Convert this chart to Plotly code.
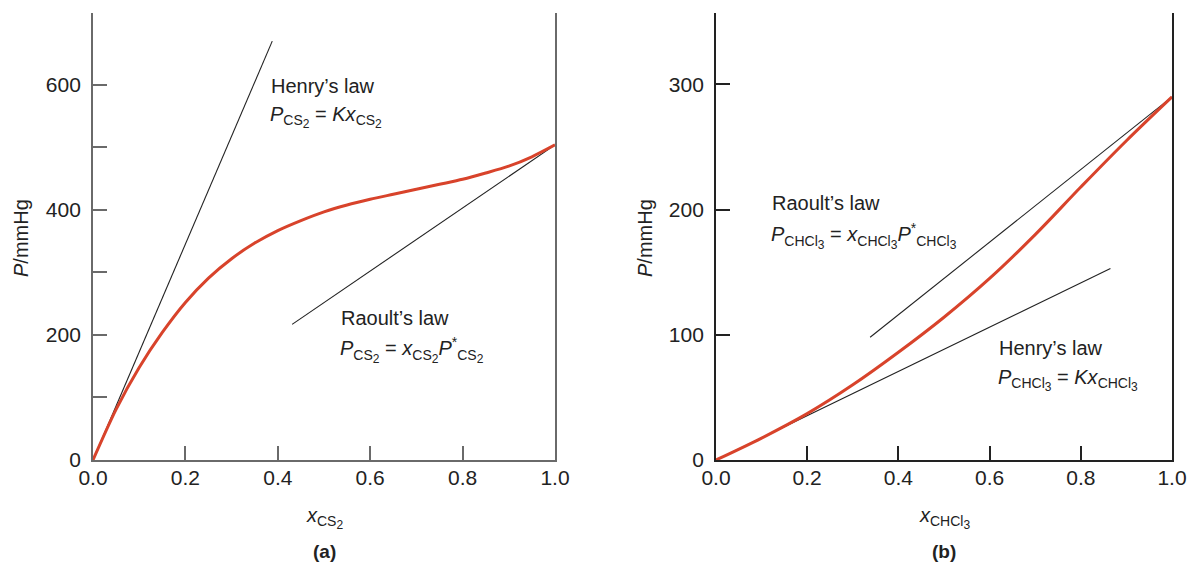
import plotly.graph_objects as go

# ---- data: panel (a) CS2 ----
x_cs2 = [0, 0.05, 0.1, 0.15, 0.2, 0.25, 0.3, 0.35, 0.4, 0.45, 0.5, 0.55, 0.6, 0.65, 0.7, 0.75, 0.8, 0.85, 0.9, 0.95, 1.0]
p_cs2 = [0, 81, 148, 204, 252, 291, 322, 347, 367, 383, 397, 408, 417, 425, 433, 441, 449, 459, 470, 485, 504]
henry_a_x = [0, 0.388]
henry_a_p = [0, 670]
raoult_a_x = [0.431, 1.0]
raoult_a_p = [217, 504]

# ---- data: panel (b) CHCl3 ----
x_chcl3 = [0, 0.1, 0.2, 0.3, 0.4, 0.5, 0.6, 0.7, 0.8, 0.9, 1.0]
p_chcl3 = [0, 17.5, 37, 60, 86, 114, 145, 180, 218, 255, 290]
henry_b_x = [0, 0.865]
henry_b_p = [0, 153]
raoult_b_x = [0.338, 1.0]
raoult_b_p = [98, 290]

xticks = [0, 0.2, 0.4, 0.6, 0.8, 1.0]
xtick_text = ["0.0", "0.2", "0.4", "0.6", "0.8", "1.0"]
a_yticks = [0, 100, 200, 300, 400, 500, 600]
a_ytext = ["0", "", "200", "", "400", "", "600"]
b_yticks = [0, 100, 200, 300]
b_ytext = ["0", "100", "200", "300"]

RED = "#d8432b"
INK = "#222222"
FONT = "Liberation Sans, Arial, Helvetica, sans-serif"
W, H = 1192, 568

fig = go.Figure()
fig.add_trace(go.Scatter(x=henry_a_x, y=henry_a_p, mode="lines", line=dict(color=INK, width=1.1),
                         xaxis="x", yaxis="y", showlegend=False))
fig.add_trace(go.Scatter(x=raoult_a_x, y=raoult_a_p, mode="lines", line=dict(color=INK, width=1.1),
                         xaxis="x", yaxis="y", showlegend=False))
fig.add_trace(go.Scatter(x=x_cs2, y=p_cs2, mode="lines", line=dict(color=RED, width=3, shape="spline", smoothing=0.8),
                         xaxis="x", yaxis="y", showlegend=False))
fig.add_trace(go.Scatter(x=henry_b_x, y=henry_b_p, mode="lines", line=dict(color=INK, width=1.1),
                         xaxis="x2", yaxis="y2", showlegend=False))
fig.add_trace(go.Scatter(x=raoult_b_x, y=raoult_b_p, mode="lines", line=dict(color=INK, width=1.1),
                         xaxis="x2", yaxis="y2", showlegend=False))
fig.add_trace(go.Scatter(x=x_chcl3, y=p_chcl3, mode="lines", line=dict(color=RED, width=3, shape="spline", smoothing=1.0),
                         xaxis="x2", yaxis="y2", showlegend=False))

ydom = [(H - 460) / H, (H - 13) / H]

def xax(dom, anchor, col):
    return dict(domain=dom, anchor=anchor, range=[0, 1], tickvals=xticks, ticktext=xtick_text,
                ticks="inside", ticklen=14, tickwidth=1.5, tickcolor=col, showline=True, linecolor=col,
                linewidth=1.8, showgrid=False, zeroline=False, mirror=False,
                tickfont=dict(family=FONT, size=21, color=INK), ticklabelstandoff=-2)

def yax(anchor, rng, tv, tt, col):
    return dict(domain=ydom, anchor=anchor, range=rng, tickvals=tv, ticktext=tt,
                ticks="inside", ticklen=14, tickwidth=1.5, tickcolor=col, showline=True, linecolor=col,
                linewidth=1.8, showgrid=False, zeroline=False, mirror=True,
                tickfont=dict(family=FONT, size=21, color=INK), ticklabelstandoff=6)

A_COL = "#6a6a6a"
B_COL = "#222222"

def px(x):
    return x / W

def py(y):
    return 1 - y / H

ann = []
def txt(text, x, y, xref="paper", yref="paper", size=20, xanchor="left", angle=0):
    ann.append(dict(text=text, x=x, y=y, xref=xref, yref=yref, showarrow=False, xanchor=xanchor,
                    yanchor="middle", textangle=angle, font=dict(family=FONT, size=size, color=INK)))

def sub(base, digit):
    return "<sub>" + base + "<sub><span style='font-size:12px'>" + digit + "</span></sub></sub>"

CS2 = sub("CS", "2")
CHCL3 = sub("CHCl", "3")

# panel (a) labels
txt("Henry’s law", px(269), py(86))
txt("<i>P</i>" + CS2 + " = <i>Kx</i>" + CS2, px(268), py(117))
txt("Raoult’s law", px(339), py(318))
txt("<i>P</i>" + CS2 + " = <i>x</i>" + CS2 + "<i>P</i><sup>*</sup>" + CS2, px(338), py(350))
# panel (b) labels
txt("Raoult’s law", px(770), py(203))
txt("<i>P</i>" + CHCL3 + " = <i>x</i>" + CHCL3 + "<i>P</i><sup>*</sup>" + CHCL3, px(769), py(236))
txt("Henry’s law", px(997), py(348))
txt("<i>P</i>" + CHCL3 + " = <i>Kx</i>" + CHCL3, px(996), py(380))

# axis titles
txt("<i>P</i>/mmHg", px(21), py(238), xanchor="center", angle=-90)
txt("<i>P</i>/mmHg", px(645), py(238), xanchor="center", angle=-90)
txt("<i>x</i>" + CS2, px(324), py(518), xanchor="center")
txt("<i>x</i>" + CHCL3, px(944), py(518), xanchor="center")
txt("<b>(a)</b>", px(324), py(551), xanchor="center", size=19)
txt("<b>(b)</b>", px(944), py(551), xanchor="center", size=19)

fig.update_layout(
    width=W, height=H, margin=dict(l=0, r=0, t=0, b=0, autoexpand=False),
    paper_bgcolor="white", plot_bgcolor="white",
    xaxis=xax([93 / W, 555 / W], "y", A_COL),
    yaxis=yax("x", [0, 715], a_yticks, a_ytext, A_COL),
    xaxis2=xax([716 / W, 1172 / W], "y2", B_COL),
    yaxis2=yax("x2", [0, 357], b_yticks, b_ytext, B_COL),
    annotations=ann,
    font=dict(family=FONT, color=INK),
)

fig.write_html("out.html")
